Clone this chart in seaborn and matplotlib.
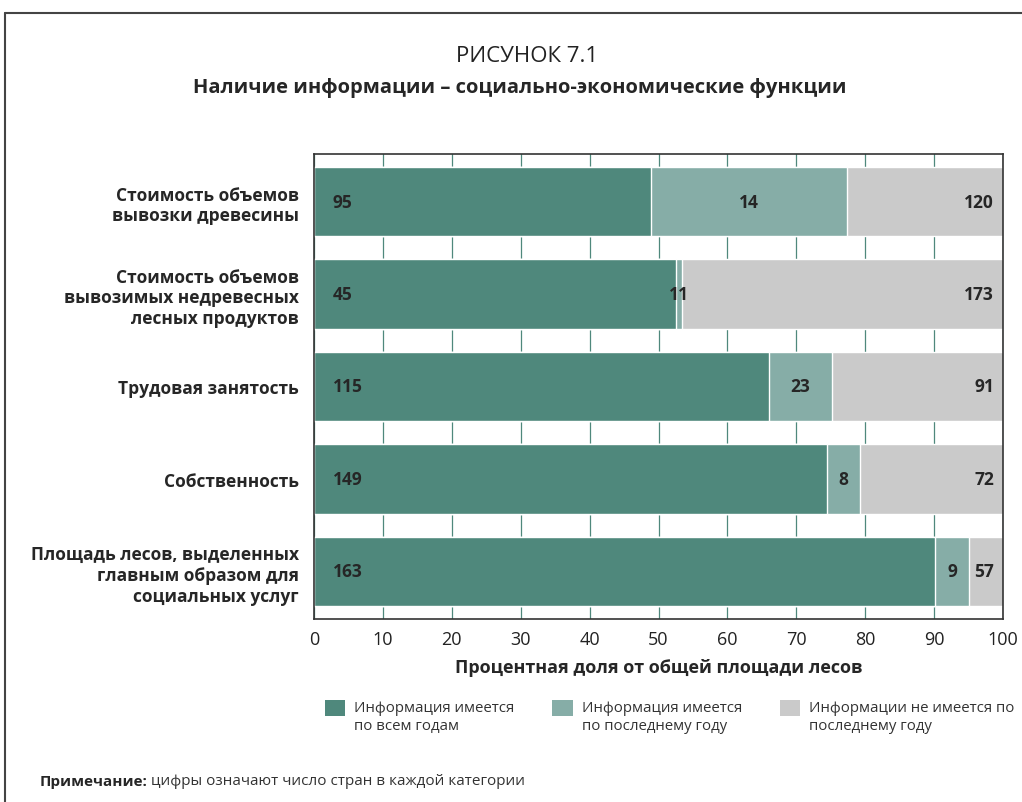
import numpy as np
import pandas as pd
import matplotlib.pyplot as plt
import seaborn as sns
from matplotlib.patches import Patch, Rectangle
from matplotlib.lines import Line2D
from matplotlib.legend_handler import HandlerPatch

# ==========================
# DATA
# ==========================

categories = [
    "Стоимость объемов\nвывозки древесины",
    "Стоимость объемов\nвывозимых недревесных\nлесных продуктов",
    "Трудовая занятость",
    "Собственность",
    "Площадь лесов, выделенных\nглавным образом для\nсоциальных услуг",
]

# percent of total forest area
pct_all_years = [48.9, 52.6, 66.0, 74.4, 90.1]
pct_last_year = [28.4, 0.8, 9.2, 4.9, 5.0]
pct_none = [22.7, 46.6, 24.8, 20.7, 4.9]

# number of countries (bar labels)
n_all_years = [95, 45, 115, 149, 163]
n_last_year = [14, 11, 23, 8, 9]
n_none = [120, 173, 91, 72, 57]

series_names = [
    "Информация имеется\nпо всем годам",
    "Информация имеется\nпо последнему году",
    "Информации не имеется по\nпоследнему году",
]
colors = ["#4f887c", "#86ada7", "#cacaca"]

df = pd.DataFrame({
    "category": categories,
    "all": pct_all_years,
    "last": pct_last_year,
    "none": pct_none,
})
df["cum_all"] = df["all"]
df["cum_last"] = df["all"] + df["last"]
df["cum_none"] = df["cum_last"] + df["none"]

# ==========================
# FIGURE
# ==========================

sns.set_style("white")
plt.rcParams["font.family"] = ["Open Sans", "DejaVu Sans"]

fig = plt.figure(figsize=(10.22, 8.03), dpi=100)
ax = fig.add_axes([314 / 1022, 1 - 620 / 803, (1003 - 314) / 1022, (620 - 155) / 803])

for col, c in zip(["cum_none", "cum_last", "cum_all"], colors[::-1]):
    sns.barplot(data=df, x=col, y="category", orient="h", color=c,
                saturation=1, width=0.75, ax=ax, zorder=2)

ax.set_xlim(0, 100)
ax.set_ylim(4.515, -0.515)
ax.set_xticks(np.arange(0, 101, 10))
ax.grid(axis="x", color="#4f887c", linewidth=0.9, zorder=0)
ax.grid(axis="y", visible=False)
ax.set_axisbelow(True)
for s in ax.spines.values():
    s.set_color("#333333")
    s.set_linewidth(1.2)

ax.tick_params(axis="both", length=0)
ax.tick_params(axis="x", labelsize=13, colors="#222222", pad=8)
ax.tick_params(axis="y", labelsize=12.5, pad=11)
for lab in ax.get_yticklabels():
    lab.set_fontweight("bold")
    lab.set_multialignment("right")
    lab.set_linespacing(1.2)

ax.set_ylabel("")
ax.set_xlabel("Процентная доля от общей площади лесов",
              fontsize=13, fontweight="bold", labelpad=7)

# value labels
for i in range(len(categories)):
    ax.text(2.7, i, str(n_all_years[i]), ha="left", va="center",
            fontsize=12.5, fontweight="bold", zorder=3)
    mid = pct_all_years[i] + pct_last_year[i] / 2
    ax.text(mid, i, str(n_last_year[i]), ha="center", va="center",
            fontsize=12.5, fontweight="bold", zorder=3)
    ax.text(98.7, i, str(n_none[i]), ha="right", va="center",
            fontsize=12.5, fontweight="bold", zorder=3)

# titles
fig.text(0.516, 1 - 57 / 803, "РИСУНОК 7.1", ha="center", va="center",
         fontsize=16, color="#222222")
fig.text(0.509, 1 - 88 / 803, "Наличие информации – социально-экономические функции",
         ha="center", va="center", fontsize=14.5, fontweight="bold")


# legend: square patches aligned with the first text line
def top_patch(legend, orig_handle, xdescent, ydescent, width, height, fontsize):
    return Rectangle((-xdescent, -ydescent + 6.5), width, height)


handles = [Patch(facecolor=c, edgecolor="none") for c in colors]
leg = fig.legend(handles, series_names, loc="upper left",
                 bbox_to_anchor=(311 / 1022, 1 - 688 / 803), ncol=3,
                 frameon=False, fontsize=10.8, handlelength=1.35,
                 handleheight=1.35, handletextpad=0.6, columnspacing=2.55,
                 handler_map={Patch: HandlerPatch(patch_func=top_patch)})
for t in leg.get_texts():
    t.set_color("#333333")

# note
fig.text(40 / 1022, 1 - 782 / 803, "Примечание:", ha="left", va="center",
         fontsize=11, fontweight="bold")
fig.text(151 / 1022, 1 - 782 / 803, "цифры означают число стран в каждой категории",
         ha="left", va="center", fontsize=11, color="#333333")

# frame of the box
fig.add_artist(Line2D([5 / 1022, 1], [1 - 14 / 803, 1 - 14 / 803],
                      color="#444444", linewidth=1.5))
fig.add_artist(Line2D([5 / 1022, 5 / 1022], [0, 1 - 14 / 803],
                      color="#444444", linewidth=1.5))

fig.savefig("out.png", dpi=100)
